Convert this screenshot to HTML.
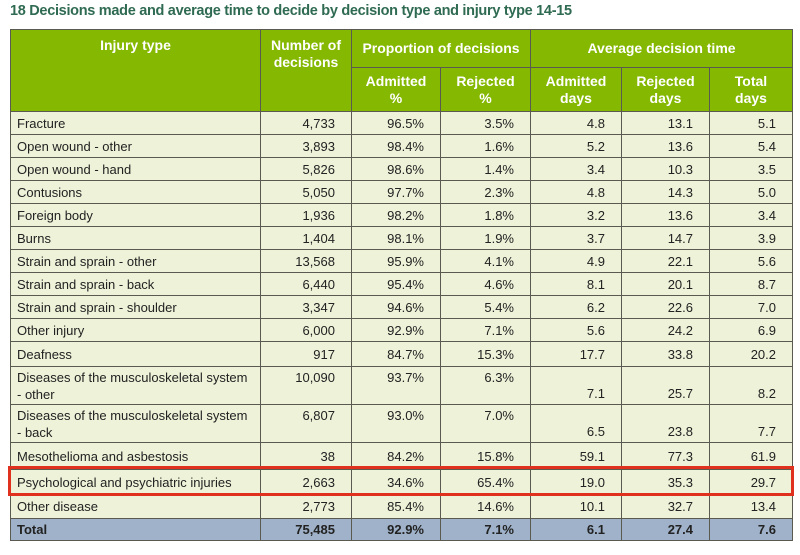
<!DOCTYPE html>
<html><head><meta charset="utf-8"><style>
body{margin:0;width:800px;height:555px;background:#fff;position:relative;font-family:"Liberation Sans Narrow","Liberation Sans",sans-serif;overflow:hidden}
#title{position:absolute;left:10px;top:3px;font-size:14.5px;font-weight:bold;color:#2f6a52;font-family:"Liberation Sans",sans-serif;letter-spacing:-0.3px}
table{position:absolute;left:10px;top:29px;border-collapse:collapse;table-layout:fixed;width:782px}
td,th{border:1.5px solid #5a5a50;padding:0 8px;font-size:13px;color:#222;overflow:hidden;white-space:nowrap}
th{background:#85b800;color:#fff;font-weight:bold;font-size:14px;text-align:center;line-height:17px}
td{background:#eef2d8;text-align:right;padding-right:16px}
td.l{text-align:left;padding-left:6px;line-height:17px}
td.b{vertical-align:bottom;padding-bottom:3px}
tr.tot td{background:#9fb2c9;font-weight:bold}
#hl{position:absolute;left:8px;top:466px;width:780px;height:24px;border:3px solid #e0301e}
</style></head><body>
<div id="title">18 Decisions made and average time to decide by decision type and injury type 14-15</div>
<table>
<colgroup><col style="width:250px"><col style="width:91px"><col style="width:89px"><col style="width:90px"><col style="width:91px"><col style="width:88px"><col style="width:83px"></colgroup>
<tr style="height:38px">
<th rowspan="2" style="vertical-align:top;padding-top:7px">Injury type</th>
<th rowspan="2" style="vertical-align:top;padding-top:7px">Number of<br>decisions</th>
<th colspan="2">Proportion of decisions</th>
<th colspan="3">Average decision time</th></tr>
<tr style="height:44px">
<th>Admitted<br>%</th>
<th>Rejected<br>%</th>
<th>Admitted<br>days</th>
<th>Rejected<br>days</th>
<th>Total<br>days</th></tr>
<tr style="height:23px"><td class="l">Fracture</td><td>4,733</td><td>96.5%</td><td>3.5%</td><td>4.8</td><td>13.1</td><td>5.1</td></tr>
<tr style="height:23px"><td class="l">Open wound - other</td><td>3,893</td><td>98.4%</td><td>1.6%</td><td>5.2</td><td>13.6</td><td>5.4</td></tr>
<tr style="height:23px"><td class="l">Open wound - hand</td><td>5,826</td><td>98.6%</td><td>1.4%</td><td>3.4</td><td>10.3</td><td>3.5</td></tr>
<tr style="height:23px"><td class="l">Contusions</td><td>5,050</td><td>97.7%</td><td>2.3%</td><td>4.8</td><td>14.3</td><td>5.0</td></tr>
<tr style="height:23px"><td class="l">Foreign body</td><td>1,936</td><td>98.2%</td><td>1.8%</td><td>3.2</td><td>13.6</td><td>3.4</td></tr>
<tr style="height:23px"><td class="l">Burns</td><td>1,404</td><td>98.1%</td><td>1.9%</td><td>3.7</td><td>14.7</td><td>3.9</td></tr>
<tr style="height:23px"><td class="l">Strain and sprain - other</td><td>13,568</td><td>95.9%</td><td>4.1%</td><td>4.9</td><td>22.1</td><td>5.6</td></tr>
<tr style="height:23px"><td class="l">Strain and sprain - back</td><td>6,440</td><td>95.4%</td><td>4.6%</td><td>8.1</td><td>20.1</td><td>8.7</td></tr>
<tr style="height:23px"><td class="l">Strain and sprain - shoulder</td><td>3,347</td><td>94.6%</td><td>5.4%</td><td>6.2</td><td>22.6</td><td>7.0</td></tr>
<tr style="height:23px"><td class="l">Other injury</td><td>6,000</td><td>92.9%</td><td>7.1%</td><td>5.6</td><td>24.2</td><td>6.9</td></tr>
<tr style="height:25px"><td class="l">Deafness</td><td>917</td><td>84.7%</td><td>15.3%</td><td>17.7</td><td>33.8</td><td>20.2</td></tr>
<tr style="height:38px"><td class="l" style="vertical-align:top;padding-top:2px">Diseases of the musculoskeletal system<br>- other</td><td style="vertical-align:top;padding-top:3px">10,090</td><td style="vertical-align:top;padding-top:3px">93.7%</td><td style="vertical-align:top;padding-top:3px">6.3%</td><td class="b">7.1</td><td class="b">25.7</td><td class="b">8.2</td></tr>
<tr style="height:38px"><td class="l" style="vertical-align:top;padding-top:2px">Diseases of the musculoskeletal system<br>- back</td><td style="vertical-align:top;padding-top:3px">6,807</td><td style="vertical-align:top;padding-top:3px">93.0%</td><td style="vertical-align:top;padding-top:3px">7.0%</td><td class="b">6.5</td><td class="b">23.8</td><td class="b">7.7</td></tr>
<tr style="height:27px"><td class="l">Mesothelioma and asbestosis</td><td>38</td><td>84.2%</td><td>15.8%</td><td>59.1</td><td>77.3</td><td>61.9</td></tr>
<tr style="height:25px"><td class="l">Psychological and psychiatric injuries</td><td>2,663</td><td>34.6%</td><td>65.4%</td><td>19.0</td><td>35.3</td><td>29.7</td></tr>
<tr style="height:24px"><td class="l">Other disease</td><td>2,773</td><td>85.4%</td><td>14.6%</td><td>10.1</td><td>32.7</td><td>13.4</td></tr>
<tr class="tot" style="height:22px"><td class="l">Total</td><td>75,485</td><td>92.9%</td><td>7.1%</td><td>6.1</td><td>27.4</td><td>7.6</td></tr>
</table>
<div id="hl"></div>
</body></html>
